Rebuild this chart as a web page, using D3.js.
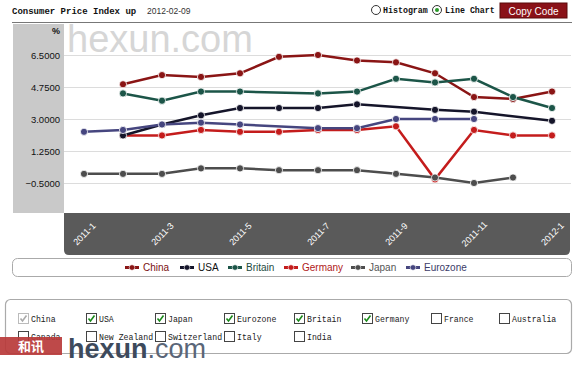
<!DOCTYPE html>
<html><head><meta charset="utf-8">
<script src="https://cdn.jsdelivr.net/npm/d3@7/dist/d3.min.js"></script>
<style>body{margin:0;background:#fff}svg{display:block}</style>
</head><body>
<svg id="c" width="580" height="366"></svg>
<script>
const months = ["2011-1","2011-2","2011-3","2011-4","2011-5","2011-6","2011-7","2011-8","2011-9","2011-10","2011-11","2011-12","2012-1"];
const tickLabels = ["2011-1","2011-3","2011-5","2011-7","2011-9","2011-11","2012-1"];
const yTicks = [6.5, 4.75, 3.0, 1.25, -0.5];
const seriesNames = ["China","USA","Britain","Germany","Japan","Eurozone"];
const china    = [null,4.9,5.4,5.3,5.5,6.4,6.5,6.2,6.1,5.5,4.2,4.1,4.5];
const usa      = [null,2.1,2.7,3.2,3.6,3.6,3.6,3.8,null,3.5,3.4,null,2.9];
const britain  = [null,4.4,4.0,4.5,4.5,null,4.4,4.5,5.2,5.0,5.2,4.2,3.6];
const germany  = [null,2.1,2.1,2.4,2.3,2.3,2.4,2.4,2.6,-0.3,2.4,2.1,2.1];
const japan    = [0.0,0.0,0.0,0.3,0.3,0.2,0.2,0.2,0.0,-0.2,-0.5,-0.2,null];
const eurozone = [2.3,2.4,2.7,2.8,2.7,null,2.5,2.5,3.0,3.0,3.0,null,null];
const checkRow1 = ["China","USA","Japan","Eurozone","Britain","Germany","France","Australia"];
const checkRow2 = ["Canada","New Zealand","Switzerland","Italy","India"];
const checked = ["USA","Japan","Eurozone","Britain","Germany"];

const colors = {China:"#8a1515",USA:"#15152a",Britain:"#1c5548",Germany:"#c41c1c",Japan:"#4d4d4d",Eurozone:"#46467f"};
const textColors = {China:"#7a1010",USA:"#111",Britain:"#1c4a40",Germany:"#b01818",Japan:"#555",Eurozone:"#3c3c68"};
const dataMap = {China:china,USA:usa,Britain:britain,Germany:germany,Japan:japan,Eurozone:eurozone};

const svg = d3.select("#c");
const mono = "'Liberation Mono','DejaVu Sans Mono',monospace";
const sans = "'Liberation Sans',Arial,sans-serif";

// header
svg.append("text").attr("x",12).attr("y",14).attr("font-family",mono).attr("font-weight","bold")
  .attr("font-size",9).attr("fill","#111").text("Consumer Price Index up");
svg.append("text").attr("x",147).attr("y",14).attr("font-family",sans)
  .attr("font-size",8.5).attr("fill","#333").text("2012-02-09");
svg.append("circle").attr("cx",376).attr("cy",10).attr("r",4.5).attr("fill","#fff").attr("stroke","#333");
svg.append("text").attr("x",383).attr("y",13).attr("font-family",mono).attr("font-weight","bold").attr("font-size",8.3).attr("fill","#111").text("Histogram");
svg.append("circle").attr("cx",437).attr("cy",10).attr("r",4.5).attr("fill","#fff").attr("stroke","#333");
svg.append("circle").attr("cx",437).attr("cy",10).attr("r",2).attr("fill","#2a9a2a");
svg.append("text").attr("x",445).attr("y",13).attr("font-family",mono).attr("font-weight","bold").attr("font-size",8.3).attr("fill","#111").text("Line Chart");
svg.append("rect").attr("x",500).attr("y",3).attr("width",67).attr("height",15).attr("fill","#8a1218").attr("stroke","#5a0a0a");
svg.append("text").attr("x",533.5).attr("y",14.5).attr("text-anchor","middle").attr("font-family",sans)
  .attr("font-size",10).attr("fill","#fff").text("Copy Code");
svg.append("line").attr("x1",12).attr("x2",572).attr("y1",22.5).attr("y2",22.5).attr("stroke","#777").attr("stroke-width",1);

// scales
const x = d3.scaleLinear().domain([0,12]).range([84,552]);
const y = d3.scaleLinear().domain([-0.5,6.5]).range([183,55]);

// y panel
svg.append("rect").attr("x",13).attr("y",24).attr("width",51).attr("height",189).attr("fill","#c9c9c9");
svg.append("text").attr("x",60).attr("y",34).attr("text-anchor","end").attr("font-family",sans).attr("font-size",9).attr("font-weight","bold").attr("fill","#111").text("%");

// watermark
svg.append("text").attr("x",67).attr("y",52).attr("font-family",sans).attr("font-size",38).attr("fill","#d6d6d6").text("hexun.com");

// grid
svg.append("g").selectAll("line").data(yTicks).join("line")
  .attr("x1",64).attr("x2",571).attr("y1",d=>Math.round(y(d))+0.5).attr("y2",d=>Math.round(y(d))+0.5)
  .attr("stroke","#dcdcdc");
// y axis labels
const yAxis = d3.axisLeft(y).tickValues(yTicks).tickFormat(d3.format(".4f")).tickSize(0).tickPadding(0);
const ya = svg.append("g").attr("transform","translate(60,0)").call(yAxis);
ya.select(".domain").remove();
ya.selectAll("text").attr("font-family",sans).attr("font-size",9.5).attr("fill","#111");

// x band
const bx=64, bw=506, by=213, bh=42, r=5;
svg.append("path").attr("d",`M${bx},${by}H${bx+bw}V${by+bh-r}Q${bx+bw},${by+bh} ${bx+bw-r},${by+bh}H${bx+r}Q${bx},${by+bh} ${bx},${by+bh-r}Z`)
  .attr("fill","#5a5a5a");
const xAxis = d3.axisBottom(x).tickValues([0,2,4,6,8,10,12]).tickFormat(i=>months[i]).tickSize(0);
const xa = svg.append("g").attr("transform","translate(0,234)").call(xAxis);
xa.select(".domain").remove();
xa.selectAll("text").attr("font-family",sans).attr("font-size",9).attr("fill","#fff")
  .attr("dy","0.32em").attr("y",0).attr("text-anchor","middle").attr("transform","rotate(-45)");

// lines
const drawOrder = ["China","Britain","Germany","USA","Japan","Eurozone"];
const line = d3.line().x(d=>x(d.i)).y(d=>y(d.v));
drawOrder.forEach(name=>{
  const pts = dataMap[name].map((v,i)=>({i,v})).filter(d=>d.v!==null);
  const g = svg.append("g");
  g.append("path").datum(pts).attr("d",line).attr("fill","none").attr("stroke",colors[name]).attr("stroke-width",2.5);
  g.selectAll("circle").data(pts).join("circle").attr("cx",d=>x(d.i)).attr("cy",d=>y(d.v)).attr("r",3.6)
    .attr("fill",colors[name]).attr("stroke","#fff").attr("stroke-width",0.8);
});

// legend
svg.append("rect").attr("x",12.5).attr("y",258.5).attr("width",559).attr("height",18).attr("rx",5)
  .attr("fill","#fff").attr("stroke","#aaa");
const legX = {China:125,USA:180,Britain:228,Germany:284,Japan:351,Eurozone:406};
seriesNames.forEach(name=>{
  const lx = legX[name];
  svg.append("rect").attr("x",lx).attr("y",266).attr("width",14).attr("height",3).attr("fill",colors[name]);
  svg.append("circle").attr("cx",lx+7).attr("cy",267.5).attr("r",2.8).attr("fill",colors[name]).attr("stroke","#fff").attr("stroke-width",0.6);
  svg.append("text").attr("x",lx+18).attr("y",271).attr("font-family",sans).attr("font-size",10)
    .attr("fill",textColors[name]).text(name);
});

// checkbox panel
svg.append("rect").attr("x",5.5).attr("y",299.5).attr("width",566).attr("height",54).attr("rx",5)
  .attr("fill","#fff").attr("stroke","#aaa").attr("stroke-width",1.2);
const col = [18,86,155,224,294,362,431,499];
function drawCheck(name, cx, cy){
  const on = checked.includes(name), dis = name==="China";
  svg.append("rect").attr("x",cx+0.5).attr("y",cy-4.5).attr("width",10).attr("height",10)
    .attr("fill","#fff").attr("stroke",dis?"#bbb":"#444");
  if(on||dis){
    svg.append("path").attr("d",`M${cx+2.5},${cy+0.5}L${cx+4.5},${cy+3}L${cx+8.5},${cy-2.5}`)
      .attr("fill","none").attr("stroke",dis?"#aaa":"#1a8a1a").attr("stroke-width",1.6);
  }
  svg.append("text").attr("x",cx+13).attr("y",cy+3.5).attr("font-family",mono)
    .attr("font-size",8.2).attr("fill","#222").text(name);
}
checkRow1.forEach((n,i)=>drawCheck(n,col[i],318));
checkRow2.forEach((n,i)=>drawCheck(n,col[i],336));

// bottom logo
svg.append("rect").attr("x",0).attr("y",337).attr("width",62).attr("height",18).attr("fill","#b83a3a").attr("opacity",0.92);
svg.append("text").attr("x",31).attr("y",351).attr("text-anchor","middle").attr("font-family","'Noto Sans CJK SC',sans-serif")
  .attr("font-weight","bold").attr("font-size",13).attr("fill","#fff").text("和讯");
const lg = svg.append("text").attr("x",68).attr("y",358).attr("font-family",sans).attr("font-size",27);
lg.append("tspan").attr("font-weight","bold").attr("fill","#3d4a5c").text("hexun");
lg.append("tspan").attr("fill","#5a6678").text(".com");
</script>
</body></html>
